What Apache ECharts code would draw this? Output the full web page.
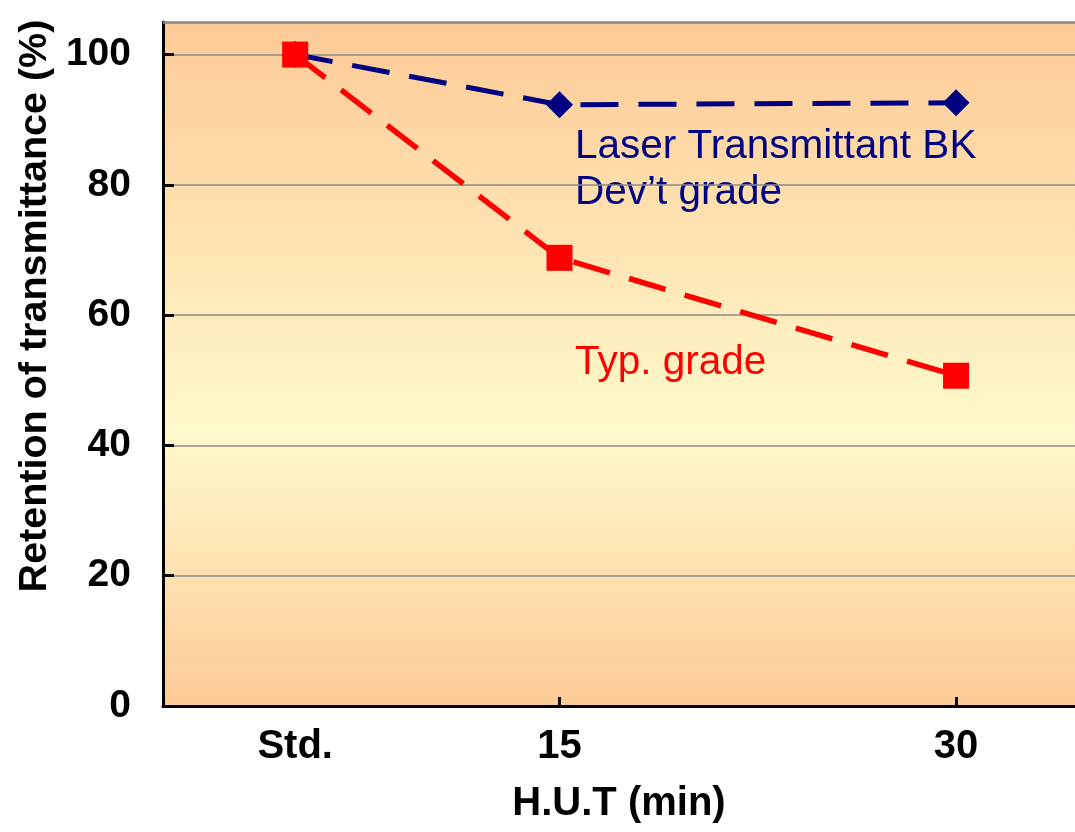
<!DOCTYPE html>
<html>
<head>
<meta charset="utf-8">
<title>Retention of transmittance vs H.U.T</title>
<script src="https://cdn.jsdelivr.net/npm/echarts@6/dist/echarts.min.js"></script>
<style>
  html, body { margin: 0; padding: 0; background: #ffffff; }
  #chart { width: 1075px; height: 832px; }
</style>
</head>
<body>
<div id="chart"></div>
<script>
// Heating time (min); the standard sample sits at x = 5
const xValues = [5, 15, 30];
const xLabels = ['Std.', '15', '30'];
// Retention of transmittance (%)
const devGrade = [100, 92.3, 92.6];
const typGrade = [100, 68.8, 50.7];
const yTicks = [0, 20, 40, 60, 80, 100];
const yTop = 105;

const FONT = '"Liberation Sans", Arial, Helvetica, sans-serif';

const labelFor = {};
xValues.forEach((v, i) => { labelFor[v] = xLabels[i]; });

const chart = echarts.init(document.getElementById('chart'), null, { renderer: 'canvas' });

chart.setOption({
  animation: false,
  backgroundColor: '#ffffff',
  grid: {
    left: 163, top: 22, right: 0, bottom: 126,
    show: true,
    borderWidth: 0,
    backgroundColor: new echarts.graphic.LinearGradient(0, 0, 0, 1, [
      { offset: 0, color: '#FDCA96' },
      { offset: 0.6, color: '#FFF9CB' },
      { offset: 1, color: '#FDCA96' }
    ])
  },
  xAxis: {
    type: 'value',
    min: 0,
    max: 34.5,
    name: 'H.U.T (min)',
    nameLocation: 'middle',
    nameGap: 78,
    nameTextStyle: { fontFamily: FONT, fontWeight: 'bold', fontSize: 40, color: '#000' },
    axisLine: { show: true, lineStyle: { color: '#000', width: 3 } },
    axisTick: { show: true, inside: true, length: 9, customValues: [15, 30], lineStyle: { color: '#000', width: 3 } },
    axisLabel: {
      customValues: xValues,
      formatter: v => labelFor[v] || '',
      margin: 21,
      fontFamily: FONT, fontWeight: 'bold', fontSize: 40, color: '#000'
    },
    splitLine: { show: false }
  },
  yAxis: {
    type: 'value',
    min: 0,
    max: yTop,
    interval: 20,
    axisLine: { show: true, lineStyle: { color: '#000', width: 3 } },
    axisTick: { show: true, inside: true, length: 11, customValues: yTicks, lineStyle: { color: '#000', width: 3 } },
    axisLabel: {
      customValues: yTicks,
      margin: 32,
      fontFamily: FONT, fontWeight: 'bold', fontSize: 39, color: '#000'
    },
    splitLine: { show: true, lineStyle: { color: '#8a8a8a', width: 1.5 } }
  },
  graphic: [
    {
      type: 'text', x: 35, y: 306, rotation: Math.PI / 2,
      style: {
        text: 'Retention of transmittance (%)',
        fontFamily: FONT, fontWeight: 'bold', fontSize: 39.5, fill: '#000',
        align: 'center', verticalAlign: 'middle'
      }
    },
    {
      type: 'text', x: 575, y: 147,
      style: { text: 'Laser Transmittant BK', fontFamily: FONT, fontSize: 40.5, fill: '#000080', align: 'left', verticalAlign: 'middle' }
    },
    {
      type: 'text', x: 575, y: 193,
      style: { text: 'Dev\u2019t grade', fontFamily: FONT, fontSize: 40.5, fill: '#000080', align: 'left', verticalAlign: 'middle' }
    },
    {
      type: 'text', x: 575, y: 363,
      style: { text: 'Typ. grade', fontFamily: FONT, fontSize: 40.5, fill: '#FF0000', align: 'left', verticalAlign: 'middle' }
    }
  ],
  series: [
    {
      name: 'Laser Transmittant BK Dev\u2019t grade',
      type: 'line',
      data: xValues.map((x, i) => [x, devGrade[i]]),
      symbol: 'diamond',
      symbolSize: 27,
      lineStyle: { color: '#000080', width: 5, type: [38, 20] },
      itemStyle: { color: '#000080' },
      markLine: {
        silent: true,
        symbol: 'none',
        label: { show: false },
        lineStyle: { color: '#858585', width: 2.5, type: 'solid' },
        data: [{ yAxis: yTop }]
      },
      z: 3
    },
    {
      name: 'Typ. grade',
      type: 'line',
      data: xValues.map((x, i) => [x, typGrade[i]]),
      symbol: 'rect',
      symbolSize: 26,
      lineStyle: { color: '#FF0000', width: 5.5, type: [38, 20] },
      itemStyle: { color: '#FF0000' },
      z: 4
    }
  ]
});
</script>
</body>
</html>
